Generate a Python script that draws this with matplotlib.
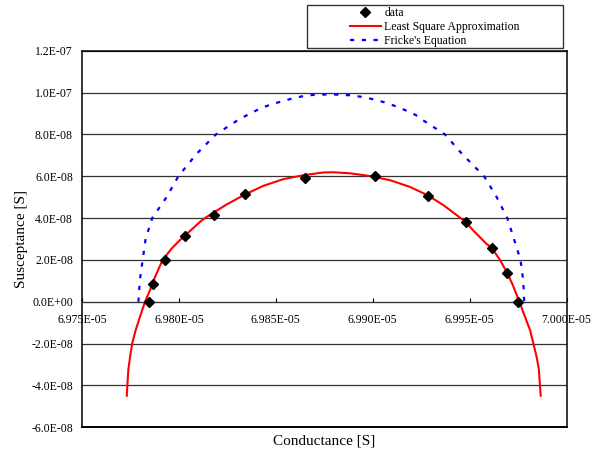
import matplotlib
matplotlib.use("Agg")
import matplotlib.pyplot as plt
import matplotlib.patches as patches
from matplotlib.ticker import FuncFormatter

plt.rcParams['font.family'] = ['Liberation Serif', 'DejaVu Serif']

# measured points
data_g = [6.97846e-5, 6.97866e-5, 6.97928e-5, 6.98031e-5, 6.98182e-5, 6.98342e-5,
          6.98649e-5, 6.99011e-5, 6.99286e-5, 6.99481e-5, 6.99613e-5, 6.99694e-5, 6.99750e-5]
data_b = [0.0, 0.86e-8, 2.00e-8, 3.12e-8, 4.17e-8, 5.16e-8,
          5.92e-8, 5.99e-8, 5.06e-8, 3.80e-8, 2.58e-8, 1.37e-8, 0.0]

# least square approximation curve
lsq_g = [6.97731e-5, 6.97734e-5, 6.97739e-5, 6.97748e-5, 6.97759e-5, 6.97777e-5, 6.97799e-5,
         6.97825e-5, 6.97851e-5, 6.97877e-5, 6.97916e-5, 6.97963e-5, 6.98014e-5, 6.98057e-5,
         6.98109e-5, 6.98134e-5, 6.98246e-5, 6.98341e-5, 6.98435e-5, 6.98538e-5, 6.98642e-5,
         6.98745e-5, 6.98796e-5, 6.98882e-5, 6.98986e-5, 6.99089e-5, 6.99192e-5, 6.99283e-5,
         6.99364e-5, 6.99433e-5, 6.99481e-5, 6.99517e-5, 6.99584e-5, 6.99613e-5, 6.99656e-5,
         6.99694e-5, 6.99722e-5, 6.99756e-5, 6.99785e-5, 6.99811e-5, 6.99828e-5, 6.99845e-5,
         6.99857e-5, 6.99862e-5, 6.99866e-5]
lsq_b = [-4.49e-8, -4.0e-8, -3.26e-8, -2.63e-8, -1.99e-8, -1.35e-8, -0.72e-8,
         0.0, 0.56e-8, 1.19e-8, 2.0e-8, 2.55e-8, 3.03e-8, 3.38e-8,
         3.82e-8, 4.0e-8, 4.65e-8, 5.13e-8, 5.54e-8, 5.86e-8, 6.05e-8,
         6.18e-8, 6.19e-8, 6.14e-8, 6.01e-8, 5.81e-8, 5.49e-8, 5.09e-8,
         4.62e-8, 4.14e-8, 3.80e-8, 3.42e-8, 2.79e-8, 2.58e-8, 2.0e-8,
         1.37e-8, 0.80e-8, 0.0, -0.72e-8, -1.35e-8, -1.99e-8, -2.63e-8,
         -3.26e-8, -4.0e-8, -4.49e-8]

# Fricke's equation curve
fricke_g = [6.97791e-5, 6.97798e-5, 6.97813e-5, 6.97828e-5, 6.97862e-5, 6.97937e-5, 6.97997e-5,
            6.98092e-5, 6.98191e-5, 6.98315e-5, 6.98367e-5, 6.98423e-5, 6.98478e-5, 6.98535e-5,
            6.98594e-5, 6.98652e-5, 6.98709e-5, 6.98795e-5, 6.98882e-5, 6.98939e-5, 6.98997e-5,
            6.99054e-5, 6.99111e-5, 6.99167e-5, 6.99221e-5, 6.99260e-5, 6.99372e-5, 6.99459e-5,
            6.99574e-5, 6.99639e-5, 6.99694e-5, 6.99728e-5, 6.99762e-5, 6.99776e-5, 6.99781e-5]
fricke_b = [0.0, 1.0e-8, 2.0e-8, 3.0e-8, 4.0e-8, 5.01e-8, 6.0e-8,
            7.08e-8, 8.0e-8, 8.75e-8, 8.99e-8, 9.26e-8, 9.44e-8, 9.59e-8,
            9.74e-8, 9.85e-8, 9.90e-8, 9.91e-8, 9.87e-8, 9.80e-8, 9.69e-8,
            9.55e-8, 9.37e-8, 9.16e-8, 8.93e-8, 8.67e-8, 8.0e-8, 7.08e-8,
            6.0e-8, 5.0e-8, 4.0e-8, 3.0e-8, 2.0e-8, 1.0e-8, 0.0]

x_ticks = [6.975e-5, 6.980e-5, 6.985e-5, 6.990e-5, 6.995e-5, 7.000e-5]
y_ticks = [-6e-8, -4e-8, -2e-8, 0.0, 2e-8, 4e-8, 6e-8, 8e-8, 1e-7, 1.2e-7]

fig = plt.figure(figsize=(6.06, 4.54), dpi=100)
ax = fig.add_axes([0.1353, 0.0588, 0.7998, 0.8295])

ln_lsq, = ax.plot(lsq_g, lsq_b, color='red', lw=1.5, zorder=3)
ln_fr, = ax.plot(fricke_g, fricke_b, color='blue', lw=1.6, linestyle=(0, (1.9, 3.4)), zorder=2)
ln_data, = ax.plot(data_g, data_b, linestyle='none', marker='D', markersize=4.8,
                   color='black', zorder=4)

ax.set_xlim(x_ticks[0], x_ticks[-1])
ax.set_ylim(y_ticks[0], y_ticks[-1])
ax.set_xticks(x_ticks)
ax.set_yticks(y_ticks)
ax.xaxis.set_major_formatter(FuncFormatter(lambda v, p: f"{v:.3E}"))
ax.yaxis.set_major_formatter(FuncFormatter(lambda v, p: f"{v:.1E}"))
ax.yaxis.grid(True, color='#333333', lw=0.9)
ax.set_axisbelow(True)

# x axis crosses at zero, keep the box closed at the bottom
ax.spines['bottom'].set_position(('data', 0))
ax.spines['bottom'].set_color('#333333')
for s in ['left', 'right', 'top']:
    ax.spines[s].set_linewidth(1.1)
ax.axhline(y_ticks[0], color='black', lw=1.4, clip_on=False)

ax.tick_params(axis='x', direction='in', length=3, pad=9, labelsize=8.5)
ax.tick_params(axis='y', length=0, pad=6.5, labelsize=8.5)

fig.text(324 / 606, 1 - 441 / 454, 'Conductance [S]', ha='center', va='center', fontsize=11)
fig.text(22 / 606, 1 - 239 / 454, 'Susceptance [S]', ha='center', va='center',
         rotation=90, fontsize=11)

fig.legend([ln_data, ln_lsq, ln_fr], ['data', 'Least Square Approximation', "Fricke's Equation"],
           loc='center', bbox_to_anchor=(0.7178, 1 - 27 / 454), frameon=False, fontsize=8.5,
           handlelength=2.6, handletextpad=0.3, labelspacing=0.2, numpoints=1)
fig.add_artist(patches.Rectangle((307 / 606, 1 - 48.3 / 454), 256 / 606, 43.6 / 454,
                                 transform=fig.transFigure, fill=False,
                                 edgecolor='#333333', lw=1))

fig.savefig('out.png', dpi=100)
